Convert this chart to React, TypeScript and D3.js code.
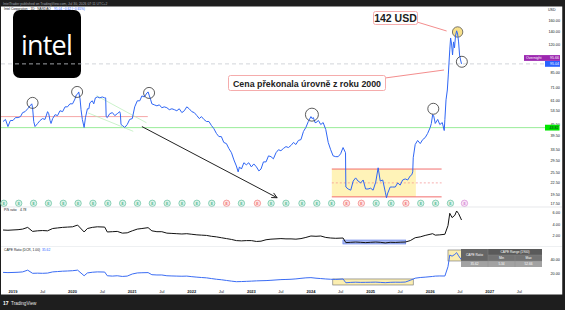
import React from "react";
import * as d3 from "d3";

const W = 565;
const H = 310;
const FONT = "'Liberation Sans', Arial, sans-serif";

// ---- data ----
const PRICE: [string, number][] = [
  ["2018-11-01",47.2],["2018-11-16",48.4],["2018-12-01",44.4],["2018-12-16",47.8],
  ["2019-01-01",47.8],["2019-01-16",49.5],["2019-02-01",49.5],["2019-02-16",50.1],
  ["2019-03-01",52.6],["2019-03-16",53.2],["2019-04-01",55.1],["2019-04-16",57.1],
  ["2019-04-26",58.5],["2019-05-01",55.8],["2019-05-08",47.2],["2019-05-16",44.4],
  ["2019-06-01",46.1],["2019-06-16",47.8],["2019-07-01",48.9],["2019-07-16",48.4],
  ["2019-08-01",53.2],["2019-08-08",51.9],["2019-08-16",47.8],["2019-08-22",46.1],
  ["2019-09-01",48.9],["2019-09-16",51.3],["2019-10-01",50.7],["2019-10-16",53.8],
  ["2019-11-01",53.2],["2019-11-16",56.4],["2019-12-01",56.4],["2019-12-16",58.5],
  ["2020-01-01",58.5],["2020-01-16",62.1],["2020-01-24",65.2],["2020-02-01",65.9],
  ["2020-02-08",67.6],["2020-02-16",62.1],["2020-02-22",54.5],["2020-03-01",48.4],
  ["2020-03-12",43.9],["2020-03-20",49.5],["2020-04-01",55.1],["2020-04-10",55.1],
  ["2020-04-16",59.2],["2020-05-01",60.7],["2020-05-10",58.5],["2020-05-20",62.9],
  ["2020-06-01",63.6],["2020-06-16",62.9],["2020-07-01",63.6],["2020-07-16",62.9],
  ["2020-07-22",62.9],["2020-07-25",50.1],["2020-08-01",49.5],["2020-08-16",51.9],
  ["2020-09-01",52.6],["2020-09-16",50.7],["2020-10-01",51.9],["2020-10-16",53.2],
  ["2020-10-20",51.9],["2020-10-24",45.5],["2020-11-01",45.0],["2020-11-16",43.9],
  ["2020-12-01",45.5],["2020-12-16",48.4],["2021-01-01",48.9],["2021-01-16",56.4],
  ["2021-02-01",60.7],["2021-02-16",60.7],["2021-03-01",64.4],["2021-03-16",63.6],
  ["2021-04-01",66.8],["2021-04-08",67.6],["2021-04-16",64.4],["2021-04-24",61.4],
  ["2021-05-01",58.5],["2021-05-16",57.8],["2021-06-01",57.1],["2021-06-16",57.8],
  ["2021-07-01",55.8],["2021-07-16",56.4],["2021-08-01",55.8],["2021-08-16",54.5],
  ["2021-09-01",55.1],["2021-09-16",54.5],["2021-10-01",53.8],["2021-10-16",55.1],
  ["2021-11-01",52.6],["2021-11-16",53.8],["2021-12-01",56.4],["2021-12-16",55.1],
  ["2022-01-01",53.2],["2022-01-16",52.6],["2022-02-01",50.7],["2022-02-16",48.9],
  ["2022-03-01",50.1],["2022-03-16",48.4],["2022-04-01",47.2],["2022-04-16",47.2],
  ["2022-05-01",45.0],["2022-05-16",43.3],["2022-06-01",40.8],["2022-06-16",39.3],
  ["2022-07-01",39.3],["2022-07-16",36.6],["2022-08-01",36.1],["2022-08-16",34.0],
  ["2022-09-01",32.3],["2022-09-16",29.6],["2022-10-01",27.5],["2022-10-12",25.6],
  ["2022-10-20",27.2],["2022-11-01",26.5],["2022-11-16",28.6],["2022-12-01",27.9],
  ["2022-12-16",28.6],["2023-01-01",27.2],["2023-01-16",28.2],["2023-02-01",27.2],
  ["2023-02-16",25.9],["2023-03-01",26.5],["2023-03-16",28.9],["2023-04-01",28.9],
  ["2023-04-16",31.1],["2023-05-01",30.8],["2023-05-16",30.0],["2023-06-01",32.3],
  ["2023-06-16",33.5],["2023-07-01",33.1],["2023-07-16",34.0],["2023-08-01",34.8],
  ["2023-08-16",34.4],["2023-09-01",35.3],["2023-09-16",36.6],["2023-10-01",35.7],
  ["2023-10-16",37.5],["2023-11-01",37.9],["2023-11-16",41.8],["2023-12-01",43.9],
  ["2023-12-16",47.2],["2024-01-01",50.1],["2024-01-08",48.9],["2024-01-16",49.5],
  ["2024-01-26",46.6],["2024-02-01",46.6],["2024-02-16",47.8],["2024-03-01",45.5],
  ["2024-03-16",46.6],["2024-04-01",42.8],["2024-04-16",36.6],["2024-05-01",33.5],
  ["2024-05-16",31.1],["2024-06-01",30.8],["2024-06-16",30.8],["2024-07-01",31.9],
  ["2024-07-16",34.4],["2024-07-31",32.3],["2024-08-02",21.3],["2024-08-16",20.8],
  ["2024-09-01",20.5],["2024-09-16",22.9],["2024-10-01",23.8],["2024-10-16",22.9],
  ["2024-11-01",22.4],["2024-11-16",23.2],["2024-12-01",20.8],["2024-12-16",20.8],
  ["2025-01-01",21.0],["2025-01-16",20.5],["2025-02-01",22.6],["2025-02-16",26.9],
  ["2025-03-01",22.9],["2025-03-16",23.2],["2025-04-01",20.0],["2025-04-08",18.7],
  ["2025-04-16",19.8],["2025-05-01",21.3],["2025-05-16",21.3],["2025-06-01",21.3],
  ["2025-06-16",22.4],["2025-07-01",21.8],["2025-07-16",23.2],["2025-08-01",23.5],
  ["2025-08-16",23.2],["2025-09-01",24.4],["2025-09-10",24.7],["2025-09-16",25.6],
  ["2025-09-19",30.4],["2025-10-01",35.7],["2025-10-16",37.5],["2025-11-01",36.1],
  ["2025-11-16",37.9],["2025-12-01",38.8],["2025-12-16",40.8],["2026-01-01",43.9],
  ["2026-01-08",46.1],["2026-01-16",51.3],["2026-01-22",50.7],["2026-02-01",46.1],
  ["2026-02-16",48.4],["2026-03-01",45.5],["2026-03-16",46.6],["2026-03-28",42.3],
  ["2026-04-01",48.4],["2026-04-08",61.4],["2026-04-16",69.2],["2026-04-22",83.1],
  ["2026-04-28",102.1],["2026-05-01",112.6],["2026-05-06",130.2],["2026-05-12",121.1],
  ["2026-05-18",105.9],["2026-05-24",124.1],["2026-05-30",115.4],["2026-06-05",133.4],
  ["2026-06-12",142.0],["2026-06-18",136.6],["2026-06-24",124.1],["2026-06-30",105.9],
  ["2026-07-06",99.7],["2026-07-12",95.04],
];

const PS_RATIO: [string, number][] = [
  ["2018-11-01",3.04],["2018-12-01",3.0],["2019-01-01",3.05],["2019-02-01",3.1],
  ["2019-03-01",3.2],["2019-04-01",3.5],["2019-05-01",2.8],["2019-06-01",2.9],
  ["2019-07-01",2.95],["2019-08-01",2.9],["2019-09-01",3.3],["2019-10-01",3.4],
  ["2019-11-01",3.5],["2019-12-01",3.55],["2020-01-01",3.6],["2020-02-01",3.9],
  ["2020-03-12",2.7],["2020-04-01",3.3],["2020-05-01",3.5],["2020-06-01",3.6],
  ["2020-07-16",3.55],["2020-08-01",2.7],["2020-09-01",2.75],["2020-10-01",2.8],
  ["2020-11-01",2.5],["2020-12-01",2.55],["2021-01-01",2.9],["2021-02-01",3.2],
  ["2021-03-01",3.3],["2021-04-08",3.45],["2021-05-01",2.9],["2021-06-01",2.75],
  ["2021-07-01",2.75],["2021-08-01",2.5],["2021-09-01",2.45],["2021-10-01",2.4],
  ["2021-11-01",2.35],["2021-12-01",2.4],["2022-01-01",2.3],["2022-02-01",2.2],
  ["2022-03-01",2.15],["2022-04-01",2.1],["2022-05-01",1.95],["2022-06-01",1.85],
  ["2022-07-01",1.7],["2022-08-01",1.55],["2022-09-01",1.4],["2022-10-01",1.2],
  ["2022-11-01",1.15],["2022-12-01",1.2],["2023-01-01",1.2],["2023-02-01",1.05],
  ["2023-03-01",1.1],["2023-04-01",1.35],["2023-05-01",1.45],["2023-06-01",1.5],
  ["2023-07-01",1.55],["2023-08-01",1.5],["2023-09-01",1.5],["2023-10-01",1.45],
  ["2023-11-01",1.55],["2023-12-01",1.75],["2024-01-01",2.0],["2024-02-01",1.95],
  ["2024-03-01",2.0],["2024-04-01",1.75],["2024-05-01",1.65],["2024-06-01",1.6],
  ["2024-07-16",1.65],["2024-08-02",0.85],["2024-09-01",0.9],["2024-10-01",0.95],
  ["2024-11-01",0.9],["2024-12-01",0.85],["2025-01-01",0.9],["2025-02-01",0.95],
  ["2025-03-01",0.9],["2025-04-01",0.8],["2025-05-01",0.9],["2025-06-01",0.88],
  ["2025-07-01",0.92],["2025-08-01",0.95],["2025-09-01",1.2],["2025-10-01",1.7],
  ["2025-11-01",1.85],["2025-12-01",2.1],["2026-01-16",2.4],["2026-02-01",2.15],
  ["2026-03-01",2.2],["2026-04-01",2.3],["2026-04-20",3.8],["2026-05-01",5.95],
  ["2026-05-15",5.2],["2026-06-01",5.6],["2026-06-12",6.35],["2026-06-24",5.9],
  ["2026-07-12",4.78],
];

const CAPE_RATIO: [string, number][] = [
  ["2018-11-01",22.3],["2018-12-01",22.0],["2019-01-01",22.2],["2019-02-01",22.5],
  ["2019-03-01",23.0],["2019-04-01",25.5],["2019-05-01",21.0],["2019-06-01",21.2],
  ["2019-07-01",21.0],["2019-08-01",21.3],["2019-09-01",23.0],["2019-10-01",23.5],
  ["2019-11-01",24.0],["2019-12-01",24.3],["2020-01-01",24.7],["2020-02-01",25.5],
  ["2020-03-12",17.5],["2020-04-01",21.5],["2020-05-01",22.5],["2020-06-01",23.0],
  ["2020-07-16",22.8],["2020-08-01",17.5],["2020-09-01",17.0],["2020-10-01",17.5],
  ["2020-11-01",16.5],["2020-12-01",17.0],["2021-01-01",20.0],["2021-02-01",21.5],
  ["2021-03-01",21.8],["2021-04-08",22.0],["2021-05-01",19.0],["2021-06-01",18.6],
  ["2021-07-01",18.6],["2021-08-01",17.5],["2021-09-01",17.2],["2021-10-01",17.0],
  ["2021-11-01",16.8],["2021-12-01",17.0],["2022-01-01",16.2],["2022-02-01",15.5],
  ["2022-03-01",15.0],["2022-04-01",14.5],["2022-05-01",13.5],["2022-06-01",12.5],
  ["2022-07-01",11.8],["2022-08-01",10.8],["2022-09-01",9.8],["2022-10-01",9.0],
  ["2022-11-01",9.2],["2022-12-01",9.5],["2023-01-01",9.8],["2023-02-01",10.2],
  ["2023-03-01",10.4],["2023-04-01",10.6],["2023-05-01",11.0],["2023-06-01",11.5],
  ["2023-07-01",12.0],["2023-08-01",12.2],["2023-09-01",12.5],["2023-10-01",13.0],
  ["2023-11-01",13.8],["2023-12-01",14.5],["2024-01-01",14.8],["2024-02-01",14.0],
  ["2024-03-01",13.5],["2024-04-01",12.9],["2024-05-01",12.5],["2024-06-01",12.2],
  ["2024-07-16",12.9],["2024-08-02",7.5],["2024-09-01",8.0],["2024-10-01",8.3],
  ["2024-11-01",8.0],["2024-12-01",8.1],["2025-01-01",8.2],["2025-02-01",8.4],
  ["2025-03-01",8.0],["2025-04-01",7.6],["2025-05-01",8.1],["2025-06-01",8.3],
  ["2025-07-01",8.2],["2025-08-01",8.5],["2025-09-01",11.0],["2025-10-01",14.0],
  ["2025-11-01",15.0],["2025-12-01",15.5],["2026-01-16",16.5],["2026-02-01",17.0],
  ["2026-03-01",17.2],["2026-04-01",17.1],["2026-04-20",30.4],["2026-05-01",47.1],
  ["2026-05-15",45.5],["2026-06-01",48.0],["2026-06-12",50.5],["2026-06-24",46.0],
  ["2026-07-12",40.0],
];

const EARNINGS_DATES = [
  "2018-11-06","2019-02-05","2019-05-07","2019-08-06","2019-11-05","2020-02-04",
  "2020-05-05","2020-08-04","2020-11-03","2021-02-02","2021-05-04","2021-08-03",
  "2021-11-02","2022-02-01","2022-05-03","2022-08-02","2022-11-01","2023-02-07",
  "2023-05-02","2023-08-01","2023-11-07","2024-02-06","2024-05-07","2024-08-06",
  "2024-11-05","2025-02-04","2025-05-06","2025-08-05","2025-11-04","2026-02-03",
  "2026-05-05","2026-07-30",
];
// b = beat, m = miss, u = upcoming
const EARNINGS_RESULT = [
  "b","b","b","b","b","b","b","b","b","b","b","b","b","b","b","m",
  "b","m","b","b","b","b","b","m","m","b","b","m","b","b","b","u",
];

const PRICE_TICKS = [160, 140, 120, 85, 71, 61, 53.5, 45.5, 39.5, 33.5, 29.5, 25.5, 22.5, 19.5, 17.5];
const PS_TICKS = [6, 4, 2];
const CAPE_TICKS = [40, 20];

const LAST_PRICE = 95.04;
const OVERNIGHT_PRICE = 95.66;
const SUPPORT_LEVEL = 43.82;
const RESIST_2019 = 50.1;
const RANGE_BOX = { start: "2024-05-08", end: "2025-10-05", lineEnd: "2026-03-12", top: 26.5, mid: 22.4, bottom: 18.9 };
const PS_BOX = { start: "2024-07-15", end: "2025-08-04", top: 1.3, bottom: 0.61 };
const CAPE_BOX = { start: "2024-05-14", end: "2025-09-19", top: 12.9, bottom: 4.3 };
const CAPE_PEAK_BOX = { start: "2026-04-20", end: "2026-07-13", top: 54.3, bottom: 38.6 };
const CIRCLES: [string, number][] = [
  ["2019-05-01", 59.2], ["2020-01-29", 67.6], ["2021-04-14", 66.8],
  ["2024-01-07", 51.3], ["2026-01-20", 55.1], ["2026-07-14", 97.5],
];
const PEAK_CIRCLE: [string, number] = ["2026-06-18", 140];
const ARROW: [string, number][] = [["2021-03-01", 44.4], ["2023-06-08", 18.7]];
const WEDGE: [string, number][][] = [
  [["2020-05-27", 64.6], ["2021-03-29", 46.5]],
  [["2020-04-05", 52.4], ["2021-01-07", 41.9]],
];
const CAPE_STATS = ["35.62", "5.34", "52.66"];

const parse = d3.timeParse("%Y-%m-%d");

export default function App() {
  const x = d3.scaleTime().domain([new Date(2019, 0, 1), new Date(2026, 0, 1)]).range([13, 430.2]);
  const yP = d3.scaleLog().domain([19.5, 160]).range([194.3, 21]);
  const yPS = d3.scaleLinear().domain([2, 6]).range([236, 213]);
  const yC = d3.scaleLinear().domain([20, 40]).range([274, 260]);

  const X = (s: string) => x(parse(s) as Date);

  const pricePath = d3.line<[string, number]>().x(d => X(d[0])).y(d => yP(d[1]))(PRICE) || "";
  const psPath = d3.line<[string, number]>().x(d => X(d[0])).y(d => yPS(d[1]))(PS_RATIO) || "";
  const capePath = d3.line<[string, number]>().x(d => X(d[0])).y(d => yC(d[1]))(CAPE_RATIO) || "";

  const timeTicks = d3.timeMonth.every(6)!.range(new Date(2019, 0, 1), new Date(2027, 7, 1));

  const ax1 = X(ARROW[0][0]), ay1 = yP(ARROW[0][1]);
  const ax2 = X(ARROW[1][0]), ay2 = yP(ARROW[1][1]);
  const ang = Math.atan2(ay2 - ay1, ax2 - ax1);
  const ah = 6;
  const a1 = [ax2 - ah * Math.cos(ang - 0.45), ay2 - ah * Math.sin(ang - 0.45)];
  const a2 = [ax2 - ah * Math.cos(ang + 0.45), ay2 - ah * Math.sin(ang + 0.45)];

  const yLast = yP(LAST_PRICE);
  const ySup = yP(SUPPORT_LEVEL);
  const peakX = X(PEAK_CIRCLE[0]), peakY = yP(PEAK_CIRCLE[1]);

  const txt = "#131722";

  return (
    <svg width={W} height={H} style={{ position: "absolute", left: 0, top: 0, fontFamily: FONT }}>
      <rect x={0} y={0} width={W} height={H} fill="#1e1e1e" />
      <rect x={1} y={6.5} width={561.5} height={288} fill="#ffffff" />
      {/* top bar */}
      <text x={3} y={4.5} fontSize={3.4} fill="#a0a3ab">IntelTrader published on TradingView.com, Jul 30, 2026 07:11 UTC+2</text>
      <text x={4} y={10.2} fontSize={3.2} fill={txt}>Intel Corporation · 1D · NASDAQ</text>
      <text x={54} y={10.2} fontSize={3.2} fill="#2962ff">95.04 −0.62 (−0.65%)</text>
      <text x={548} y={11} fontSize={3.6} fill={txt}>USD</text>

      {/* intel logo */}
      <rect x={13} y={10} width={68} height={68} rx={7} fill="#000" />
      <text x={21} y={55} fontSize={27} fill="#fff" fontFamily="'Open Sans', sans-serif" fontWeight={500} letterSpacing={-0.8}>intel</text>
      <rect x={68.5} y={52.5} width={2.6} height={2.6} fill="#fff" />

      {/* last price dashed line */}
      <line x1={1} x2={545} y1={yLast} y2={yLast} stroke="#c7c9cf" strokeWidth={0.8} strokeDasharray="4 3" />

      {/* range box */}
      <rect x={X(RANGE_BOX.start)} y={yP(RANGE_BOX.top)} width={X(RANGE_BOX.end) - X(RANGE_BOX.start)}
        height={yP(RANGE_BOX.bottom) - yP(RANGE_BOX.top)} fill="#fff3b8" />
      {[RANGE_BOX.top, RANGE_BOX.bottom].map((v, i) => (
        <line key={i} x1={X(RANGE_BOX.start)} x2={X(RANGE_BOX.lineEnd)} y1={yP(v)} y2={yP(v)} stroke="#f26d6d" strokeWidth={1} />
      ))}
      <line x1={X(RANGE_BOX.start)} x2={X(RANGE_BOX.lineEnd)} y1={yP(RANGE_BOX.mid)} y2={yP(RANGE_BOX.mid)} stroke="#f48c8c" strokeWidth={0.7} strokeDasharray="2 2" />

      {/* horizontal levels */}
      <line x1={1} x2={X("2021-04-06")} y1={yP(RESIST_2019)} y2={yP(RESIST_2019)} stroke="#f28f8f" strokeWidth={0.8} />
      <line x1={1} x2={545} y1={ySup} y2={ySup} stroke="#98ec98" strokeWidth={1} />
      {WEDGE.map((seg, i) => (
        <line key={i} x1={X(seg[0][0])} y1={yP(seg[0][1])} x2={X(seg[1][0])} y2={yP(seg[1][1])} stroke="#b4ecb4" strokeWidth={0.7} />
      ))}

      {/* arrow */}
      <line x1={ax1} y1={ay1} x2={ax2} y2={ay2} stroke="#222" strokeWidth={1} />
      <polyline points={`${a1[0]},${a1[1]} ${ax2},${ay2} ${a2[0]},${a2[1]}`} fill="none" stroke="#222" strokeWidth={1} />

      {/* peak circle */}
      <circle cx={peakX} cy={peakY} r={5.2} fill="#f7e08a" stroke="#444" strokeWidth={0.7} />

      {/* price line */}
      <path d={pricePath} fill="none" stroke="#2f66f5" strokeWidth={1} strokeLinejoin="round" />

      {CIRCLES.map((c, i) => (
        <circle key={i} cx={X(c[0])} cy={yP(c[1])} r={i === 3 ? 6.5 : 5.5} fill="none" stroke="#333" strokeWidth={0.8} />
      ))}

      {/* callouts */}
      <line x1={417} y1={22} x2={peakX - 11} y2={peakY - 1} stroke="#f28080" strokeWidth={0.9} />
      <rect x={373.5} y={11.5} width={44} height={13} rx={2} fill="#fff" stroke="#f4a3a3" strokeWidth={0.9} />
      <text x={395.5} y={21.5} fontSize={10.5} fontWeight={700} fill="#1c1c1c" textAnchor="middle">142 USD</text>

      <line x1={385} y1={78} x2={444} y2={70} stroke="#f28080" strokeWidth={0.9} />
      <rect x={228.5} y={75.5} width={157} height={15} rx={2} fill="#fff" stroke="#f4a3a3" strokeWidth={0.9} />
      <text x={307} y={86.5} fontSize={9.6} fontWeight={700} fill="#222" textAnchor="middle"
        textLength={148} lengthAdjust="spacingAndGlyphs">Cena překonala úrovně z roku 2000</text>

      {/* earnings icons */}
      {EARNINGS_DATES.map((d, i) => {
        const r = EARNINGS_RESULT[i];
        const stroke = r === "m" ? "#f06a6a" : r === "u" ? "#d27fd0" : "#4cb892";
        const fill = r === "m" ? "#fde3e3" : r === "u" ? "#f8e3f7" : "#dcf2e8";
        return (
          <g key={i}>
            <circle cx={X(d)} cy={203.3} r={3.2} fill={fill} stroke={stroke} strokeWidth={0.6} />
            <text x={X(d)} y={204.5} fontSize={3.2} fill={stroke} textAnchor="middle" fontWeight={700}>E</text>
          </g>
        );
      })}

      {/* price axis labels */}
      {PRICE_TICKS.map((v, i) => (
        <text key={i} x={560} y={yP(v) + 1.3} fontSize={3.8} fill={txt} textAnchor="end">{v.toFixed(2)}</text>
      ))}
      {/* tags */}
      <rect x={524} y={yLast - 8.8} width={36} height={5.8} fill="#9c27b0" />
      <text x={526} y={yLast - 4.6} fontSize={3.6} fill="#fff">Overnight</text>
      <text x={559} y={yLast - 4.6} fontSize={3.6} fill="#fff" textAnchor="end">{OVERNIGHT_PRICE.toFixed(2)}</text>
      <rect x={545} y={yLast - 2.9} width={15} height={5.8} fill="#2962ff" />
      <text x={559} y={yLast + 1.3} fontSize={3.6} fill="#fff" textAnchor="end">{LAST_PRICE.toFixed(2)}</text>
      <rect x={545} y={ySup - 2.9} width={14.5} height={5.8} fill="#00e600" />
      <text x={558.5} y={ySup + 1.3} fontSize={3.6} fill={txt} textAnchor="end">{SUPPORT_LEVEL.toFixed(2)}</text>

      {/* pane separators */}
      <line x1={1} x2={562} y1={207} y2={207} stroke="#d6d8de" strokeWidth={0.6} />
      <line x1={1} x2={562} y1={246.5} y2={246.5} stroke="#e3e5ea" strokeWidth={0.6} />

      {/* P/S pane */}
      <text x={4} y={211.3} fontSize={3.3} fill={txt}>P/S ratio</text>
      <text x={20} y={211.3} fontSize={3.3} fill={txt}>4.78</text>
      <rect x={X(PS_BOX.start)} y={yPS(PS_BOX.top)} width={X(PS_BOX.end) - X(PS_BOX.start)}
        height={yPS(PS_BOX.bottom) - yPS(PS_BOX.top)} fill="#a9b9f2" stroke="#5a78e6" strokeWidth={0.6} />
      <path d={psPath} fill="none" stroke="#111" strokeWidth={1} strokeLinejoin="round" />
      {PS_TICKS.map((v, i) => (
        <text key={i} x={560} y={yPS(v) + 1.3} fontSize={3.8} fill={txt} textAnchor="end">{v.toFixed(2)}</text>
      ))}

      {/* CAPE pane */}
      <text x={4} y={251.3} fontSize={3.3} fill={txt}>CAPE Ratio (DCR, 1.00)</text>
      <text x={42} y={251.3} fontSize={3.3} fill="#2962ff">{CAPE_STATS[0]}</text>
      <rect x={X(CAPE_BOX.start)} y={yC(CAPE_BOX.top)} width={X(CAPE_BOX.end) - X(CAPE_BOX.start)}
        height={yC(CAPE_BOX.bottom) - yC(CAPE_BOX.top)} fill="#fbeeb0" stroke="#6b6b6b" strokeWidth={0.6} />
      <rect x={X(CAPE_PEAK_BOX.start)} y={yC(CAPE_PEAK_BOX.top)} width={X(CAPE_PEAK_BOX.end) - X(CAPE_PEAK_BOX.start)}
        height={yC(CAPE_PEAK_BOX.bottom) - yC(CAPE_PEAK_BOX.top)} fill="#fbeeb0" stroke="#6b6b6b" strokeWidth={0.6} />
      <path d={capePath} fill="none" stroke="#3a6cf4" strokeWidth={1} strokeLinejoin="round" />
      {CAPE_TICKS.map((v, i) => (
        <text key={i} x={560} y={yC(v) + 1.3} fontSize={3.8} fill={txt} textAnchor="end">{v.toFixed(2)}</text>
      ))}

      {/* CAPE table */}
      <g fontSize={3.2} fill="#fff" textAnchor="middle">
        <rect x={461} y={249} width={81} height={12} fill="#666" />
        <rect x={488} y={249} width={54} height={6} fill="#5a5a5a" />
        <rect x={488} y={255} width={54} height={6} fill="#737373" />
        <rect x={461} y={261} width={81} height={6} fill="#a2a2a2" />
        <line x1={488} x2={488} y1={249} y2={267} stroke="#8c8c8c" strokeWidth={0.4} />
        <line x1={515} x2={515} y1={255} y2={267} stroke="#8c8c8c" strokeWidth={0.4} />
        <line x1={488} x2={542} y1={255} y2={255} stroke="#8c8c8c" strokeWidth={0.4} />
        <line x1={461} x2={542} y1={261} y2={261} stroke="#8c8c8c" strokeWidth={0.4} />
        <text x={474.5} y={256.2}>CAPE Ratio</text>
        <text x={515} y={253.2}>CAPE Range (1900)</text>
        <text x={501.5} y={259.2}>Min</text>
        <text x={528.5} y={259.2}>Max</text>
        <text x={474.5} y={265.2}>{CAPE_STATS[0]}</text>
        <text x={501.5} y={265.2}>{CAPE_STATS[1]}</text>
        <text x={528.5} y={265.2}>{CAPE_STATS[2]}</text>
      </g>

      {/* time axis */}
      {timeTicks.map((d, i) => {
        const isYear = d.getMonth() === 0;
        return (
          <text key={i} x={x(d)} y={292.5} fontSize={4} fill={txt} textAnchor="middle" fontWeight={isYear ? 700 : 400}>
            {isYear ? d.getFullYear() : "Jul"}
          </text>
        );
      })}

      {/* bottom bar */}
      <rect x={0} y={295} width={W} height={15} fill="#1e1e1e" />
      <rect x={562.5} y={0} width={2.5} height={H} fill="#1e1e1e" />
      <text x={3} y={305} fontSize={5} fontWeight={700} fill="#fff">17</text>
      <text x={11} y={305} fontSize={4.6} fill="#e6e6e6">TradingView</text>
    </svg>
  );
}
